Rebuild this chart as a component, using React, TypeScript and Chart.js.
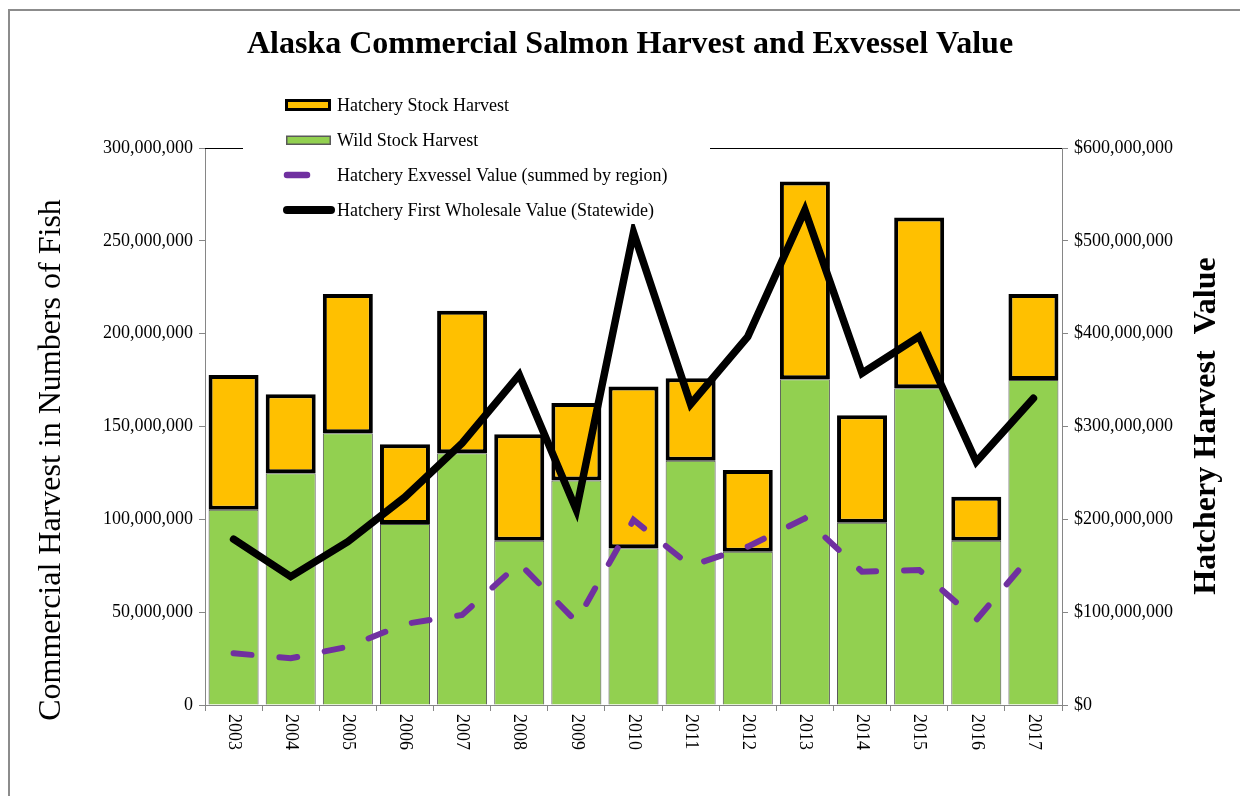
import React, { useEffect, useRef } from "react";
import { Chart, registerables } from "chart.js";

Chart.register(...registerables);

const chartTitle = "Alaska Commercial Salmon Harvest and Exvessel Value";
const leftAxisTitle = "Commercial Harvest in Numbers of Fish";
const rightAxisTitle = "Hatchery Harvest  Value";

const years = ["2003", "2004", "2005", "2006", "2007", "2008", "2009", "2010", "2011", "2012", "2013", "2014", "2015", "2016", "2017"];

const wildStock = [105100000, 124800000, 146400000, 97500000, 135600000, 88400000, 120900000, 84400000, 131600000, 82600000, 175500000, 98200000, 170600000, 88400000, 175100000];
const hatcheryStock = [72700000, 42600000, 75000000, 43000000, 76700000, 57400000, 41700000, 87100000, 44400000, 44000000, 106500000, 57900000, 92000000, 23800000, 46200000];
const firstWholesaleValue = [178600000, 138300000, 176000000, 224000000, 282000000, 355600000, 210000000, 509000000, 324000000, 396800000, 533000000, 357400000, 397000000, 262000000, 330500000];
const exvesselValue = [55700000, 50300000, 62800000, 87300000, 97000000, 152700000, 89800000, 199400000, 149800000, 170600000, 201000000, 143600000, 145500000, 91600000, 164000000];

const leftTicks = [0, 50000000, 100000000, 150000000, 200000000, 250000000, 300000000];
const rightTicks = [0, 100000000, 200000000, 300000000, 400000000, 500000000, 600000000];

const legendLabels = [
  "Hatchery Stock Harvest",
  "Wild Stock Harvest",
  "Hatchery Exvessel Value (summed by region)",
  "Hatchery First Wholesale Value (Statewide)",
];

const SERIF = '"Liberation Serif", "Times New Roman", serif';
const ORANGE = "#FFC000";
const GREEN = "#92D050";
const PURPLE = "#7030A0";
const AXIS_GRAY = "#868686";

const W = 1240;
const H = 788;

const decorPlugin = {
  id: "decor",
  beforeDraw(chart: any) {
    const { ctx, width, height } = chart;
    ctx.save();
    ctx.fillStyle = "#ffffff";
    ctx.fillRect(0, 0, width, height);
    ctx.strokeStyle = "#8c8c8c";
    ctx.lineWidth = 2;
    ctx.beginPath();
    ctx.moveTo(1, height);
    ctx.lineTo(1, 2);
    ctx.lineTo(width, 2);
    ctx.stroke();
    ctx.restore();
  },
  beforeDatasetsDraw(chart: any) {
    const { ctx, chartArea } = chart;
    ctx.save();
    ctx.strokeStyle = "#000";
    ctx.lineWidth = 1;
    ctx.beginPath();
    ctx.moveTo(chartArea.left, chartArea.top + 0.5);
    ctx.lineTo(chartArea.right, chartArea.top + 0.5);
    ctx.stroke();
    ctx.restore();
  },
  afterDraw(chart: any) {
    const { ctx } = chart;
    const xScale = chart.scales.x;
    ctx.save();
    ctx.fillStyle = "#000";

    // Title
    ctx.font = `bold 32px ${SERIF}`;
    ctx.textAlign = "center";
    ctx.textBaseline = "alphabetic";
    ctx.fillText(chartTitle, 622, 45);

    // Left axis title
    ctx.save();
    ctx.translate(52, 452);
    ctx.rotate(-Math.PI / 2);
    ctx.font = `32px ${SERIF}`;
    ctx.textAlign = "center";
    ctx.textBaseline = "alphabetic";
    ctx.fillText(leftAxisTitle, 0, 0);
    ctx.restore();

    // Right axis title
    ctx.save();
    ctx.translate(1207, 418);
    ctx.rotate(-Math.PI / 2);
    ctx.font = `bold 32px ${SERIF}`;
    ctx.textAlign = "center";
    ctx.textBaseline = "alphabetic";
    ctx.fillText(rightAxisTitle, 0, 0);
    ctx.restore();

    // X labels rotated clockwise
    ctx.font = `18px ${SERIF}`;
    years.forEach((label, i) => {
      const x = xScale.getPixelForValue(i);
      ctx.save();
      ctx.translate(x, chart.chartArea.bottom + 9);
      ctx.rotate(Math.PI / 2);
      ctx.textAlign = "left";
      ctx.textBaseline = "middle";
      ctx.fillText(label, 0, 0);
      ctx.restore();
    });

    // Legend
    ctx.fillStyle = "#fff";
    ctx.fillRect(235, 80, 467, 136);

    // Hatchery stock symbol
    ctx.fillStyle = "#000";
    ctx.fillRect(277, 91, 46, 12);
    ctx.fillStyle = ORANGE;
    ctx.fillRect(280, 94, 40, 6);
    // Wild stock symbol
    ctx.fillStyle = "#595959";
    ctx.fillRect(278, 127.5, 45, 9.5);
    ctx.fillStyle = GREEN;
    ctx.fillRect(279.5, 129, 42, 6.5);
    // Exvessel symbol
    ctx.strokeStyle = PURPLE;
    ctx.lineWidth = 6.5;
    ctx.lineCap = "round";
    ctx.beginPath();
    ctx.moveTo(279, 167);
    ctx.lineTo(299, 167);
    ctx.stroke();
    // First wholesale symbol
    ctx.strokeStyle = "#000";
    ctx.lineWidth = 8;
    ctx.beginPath();
    ctx.moveTo(279, 202);
    ctx.lineTo(323, 202);
    ctx.stroke();

    ctx.fillStyle = "#000";
    ctx.font = `18px ${SERIF}`;
    ctx.textAlign = "left";
    ctx.textBaseline = "alphabetic";
    ctx.fillText(legendLabels[0], 329, 102.5);
    ctx.fillText(legendLabels[1], 329, 137.5);
    ctx.fillText(legendLabels[2], 329, 172.5);
    ctx.fillText(legendLabels[3], 329, 207.5);

    ctx.restore();
  },
};

export default function App() {
  const canvasRef = useRef<HTMLCanvasElement | null>(null);

  useEffect(() => {
    document.documentElement.style.overflow = "hidden";
    document.body.style.overflow = "hidden";
    const canvas = canvasRef.current;
    if (!canvas) return;

    const tickFont = { family: SERIF, size: 18 };

    const chart = new Chart(canvas, {
      type: "bar",
      data: {
        labels: years,
        datasets: [
          {
            type: "line",
            label: legendLabels[3],
            data: firstWholesaleValue,
            borderColor: "#000",
            backgroundColor: "#000",
            borderWidth: 7.5,
            pointRadius: 0,
            tension: 0,
            fill: false,
            yAxisID: "y1",
            order: 0,
            borderCapStyle: "round",
          } as any,
          {
            type: "line",
            label: legendLabels[2],
            data: exvesselValue,
            borderColor: PURPLE,
            backgroundColor: PURPLE,
            borderWidth: 6,
            borderDash: [18, 28],
            borderCapStyle: "round",
            pointRadius: 0,
            tension: 0,
            fill: false,
            yAxisID: "y1",
            order: 1,
          } as any,
          {
            type: "bar",
            label: legendLabels[1],
            data: wildStock,
            backgroundColor: GREEN,
            borderColor: "#4d4d4d",
            borderWidth: 1,
            yAxisID: "y",
            stack: "harvest",
            order: 2,
            barPercentage: 0.875,
            categoryPercentage: 1,
          } as any,
          {
            type: "bar",
            label: legendLabels[0],
            data: hatcheryStock,
            backgroundColor: ORANGE,
            borderColor: "#000",
            borderWidth: 4,
            borderSkipped: false,
            yAxisID: "y",
            stack: "harvest",
            order: 2,
            barPercentage: 0.875,
            categoryPercentage: 1,
          } as any,
        ],
      },
      options: {
        responsive: false,
        animation: false,
        devicePixelRatio: 1,
        layout: { padding: { top: 140, left: 0, right: 0, bottom: 0 } },
        plugins: {
          legend: { display: false },
          title: { display: false },
          tooltip: { enabled: false },
        },
        scales: {
          x: {
            type: "category",
            stacked: true,
            offset: true,
            grid: {
              display: true,
              drawOnChartArea: false,
              drawTicks: true,
              tickLength: 6,
              color: AXIS_GRAY,
              offset: true,
            },
            border: { display: true, color: AXIS_GRAY },
            ticks: { display: false },
            afterFit: (s: any) => {
              s.height = 91;
            },
          },
          y: {
            type: "linear",
            position: "left",
            stacked: true,
            min: 0,
            max: 300000000,
            afterBuildTicks: (s: any) => {
              s.ticks = leftTicks.map((v) => ({ value: v }));
            },
            ticks: {
              font: tickFont,
              color: "#000",
              padding: 6,
              callback: (v: any) => Number(v).toLocaleString("en-US"),
            },
            grid: {
              drawOnChartArea: false,
              drawTicks: true,
              tickLength: 6,
              color: AXIS_GRAY,
            },
            border: { display: true, color: AXIS_GRAY },
            afterFit: (s: any) => {
              s.width = 197;
            },
          },
          y1: {
            type: "linear",
            position: "right",
            min: 0,
            max: 600000000,
            afterBuildTicks: (s: any) => {
              s.ticks = rightTicks.map((v) => ({ value: v }));
            },
            ticks: {
              font: tickFont,
              color: "#000",
              padding: 6,
              callback: (v: any) => "$" + Number(v).toLocaleString("en-US"),
            },
            grid: {
              drawOnChartArea: false,
              drawTicks: true,
              tickLength: 6,
              color: AXIS_GRAY,
            },
            border: { display: true, color: AXIS_GRAY },
            afterFit: (s: any) => {
              s.width = 186;
            },
          },
        },
      } as any,
      plugins: [decorPlugin],
    });

    return () => {
      chart.destroy();
    };
  }, []);

  return (
    <div style={{ position: "relative", width: W, height: H }}>
      <canvas ref={canvasRef} width={W} height={H} style={{ display: "block", width: W, height: H }} />
    </div>
  );
}
